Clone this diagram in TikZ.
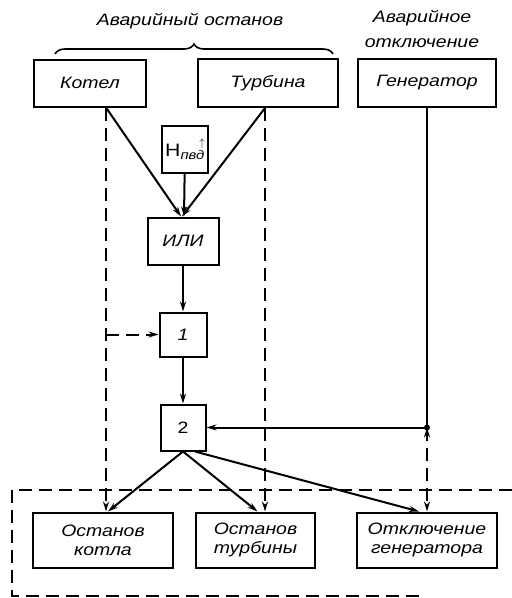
\documentclass[tikz,border=0pt]{standalone}
\usepackage{fontspec}
\setmainfont{Liberation Sans}[FakeStretch=1.18]
\usetikzlibrary{arrows.meta, positioning, decorations.pathreplacing}
\tikzset{
    %Define standard arrow tip
    >={Stealth[length=10pt,width=6pt]},
}

\begin{document}
\begin{tikzpicture}[x=1pt,y=-1pt]
	\tikzset{
	  blk/.style={draw,
	             line width=2pt,
	             font=\fontsize{16.5}{19}\selectfont\itshape,
	             inner sep=0pt,
		     align=center},
	  ttl/.style={font=\fontsize{16.5}{25}\selectfont\itshape, align=center},
	  sig/.style={line width=2pt},
	  dsig/.style={sig, dash pattern=on 13pt off 7pt}
	}
	\useasboundingbox (0,0) rectangle (512,598);

	% objects
	\node [blk, minimum width=112pt, minimum height=47pt] (kotel) at (90,83) {Котел};
	\node [blk, minimum width=140pt, minimum height=48pt, right=50pt of kotel] (turb) {Турбина};
	\node [blk, minimum width=138pt, minimum height=48pt, right=18pt of turb] (gen) {Генератор};

	% logic
	\node [blk, minimum width=46pt, minimum height=47pt, font=\fontsize{18}{18}\selectfont] (hpvd) at (185,149)
	      {H\textsubscript{\itshape пвд}\llap{\raisebox{10pt}{\fontsize{11}{11}\selectfont$\uparrow$}}};
	\node [blk, minimum width=71pt, minimum height=47pt] (ili) at (183,241) {ИЛИ};
	\node [blk, minimum width=47pt, minimum height=44pt, below=46pt of ili] (one) {1};
	\node [blk, minimum width=45pt, minimum height=46pt, below=46pt of one, font=\fontsize{16.5}{18}\selectfont] (two) {2};

	% actions
	\node [blk, minimum width=140pt, minimum height=55pt] (stopk) at (103,540) {Останов\\котла};
	\node [blk, minimum width=119pt, minimum height=55pt, right=21pt of stopk] (stopt) {Останов\\турбины};
	\node [blk, minimum width=140pt, minimum height=55pt, right=40pt of stopt] (offg) {Отключение\\генератора};

	% captions
	\node [ttl] (avost) at (190,21) {Аварийный останов};
	\node [ttl] (avotk) at (422,29) {Аварийное\\отключение};
	\draw [line width=1.6pt, decorate, decoration={brace, amplitude=10pt}] (55,54) -- (333,54);

	\coordinate (kt) at ([xshift=16pt]kotel.south);
	\coordinate (tt) at ([xshift=-3pt]turb.south);
	\coordinate (gt) at (gen.south);
	\coordinate (jn) at (gt |- two.east);

	\path[draw,->,sig] (kt) edge ([xshift=-2pt]ili.north)
	                   (tt) edge ([xshift=-1pt]ili.north)
	                   (hpvd) edge ([xshift=1pt]ili.north)
	                   (ili) edge (one)
	                   (one) edge (two)
	                   (two.south) edge ([xshift=5pt]stopk.north)
	                   (two.south) edge ([xshift=2pt]stopt.north)
	                   ([xshift=12pt]two.south) edge ([xshift=-8pt]offg.north)
	                   (jn) edge (two.east);
	\draw[sig] (gt) -- (jn);
	\fill (jn) circle (3pt);

	% backup channels
	\draw[dsig,->] (kt) -- (kt |- stopk.north);
	\draw[dsig,->] (tt) -- (tt |- stopt.north);
	\draw[dsig,->] (jn) -- (jn |- offg.north);
	\draw[dsig,->] (kt |- one.west) -- (one.west);
	\draw[dsig] (512,490) -- (12,490) -- (12,596) -- (420,596);
\end{tikzpicture}
\end{document}
